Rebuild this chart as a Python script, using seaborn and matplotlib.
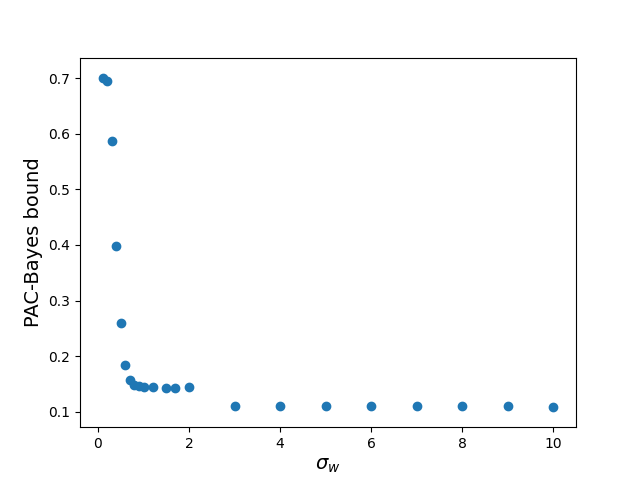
import pandas as pd
import matplotlib
matplotlib.use('Agg')
import matplotlib.pyplot as plt
import seaborn as sns

# sigma_w values and the PAC-Bayes bound
sigma_w = [0.1, 0.2, 0.3, 0.4, 0.5, 0.6, 0.7, 0.8, 0.9, 1.0, 1.2, 1.5, 1.7, 2.0,
           3, 4, 5, 6, 7, 8, 9, 10]
bound = [0.700, 0.695, 0.587, 0.399, 0.260, 0.184, 0.157, 0.149, 0.146, 0.144,
         0.144, 0.143, 0.143, 0.145, 0.110, 0.110, 0.110, 0.110, 0.110, 0.110,
         0.110, 0.108]

df = pd.DataFrame({'sigma_w': sigma_w, 'bound': bound})

fig, ax = plt.subplots(figsize=(6.4, 4.8), dpi=100)
sns.scatterplot(data=df, x='sigma_w', y='bound', ax=ax, s=36,
                color='#1f77b4', edgecolor='face', linewidth=1)
ax.set_ylim(0.0723, 0.737)
ax.set_xlabel(r'$\sigma_w$', fontsize=14)
ax.set_ylabel('PAC-Bayes bound', fontsize=14)
fig.savefig('out.png', dpi=100)
